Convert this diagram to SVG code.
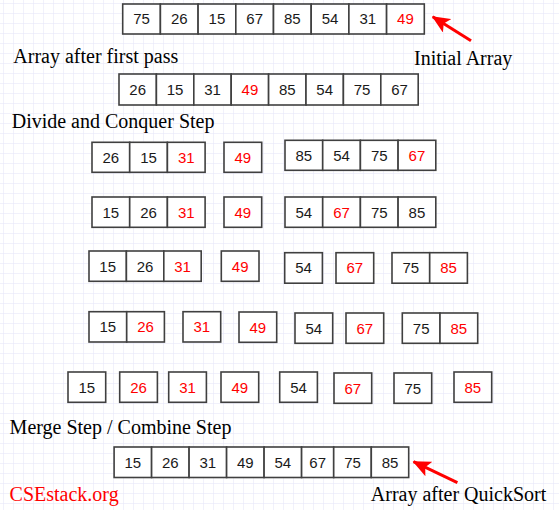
<svg xmlns="http://www.w3.org/2000/svg" width="559" height="510" viewBox="0 0 559 510">
<style>
.c{fill:#fff;stroke:#404040;stroke-width:1.6}
.n{font-family:"Liberation Sans",Arial,sans-serif;font-size:15px;text-anchor:middle;fill:#1a1a1a}
.r{fill:#ff0000}
.lbl{font-family:"Liberation Serif","Times New Roman",serif;font-size:20px;fill:#000}
.arr{stroke:#ff0000;stroke-width:3;fill:none}
</style>
<defs>
<pattern id="grid" width="10" height="10" patternUnits="userSpaceOnUse" x="3" y="3">
<path d="M10 0H0V10" fill="none" stroke="#e3e3f8" stroke-width="1"/>
</pattern>
<marker id="ah" markerUnits="userSpaceOnUse" markerWidth="18" markerHeight="16" viewBox="0 0 18 16" refX="17" refY="8" orient="auto">
<path d="M0,0 L18,8 L0,16 L4,8 z" fill="#ff0000"/>
</marker>
</defs>
<rect width="559" height="510" fill="#fff"/>
<rect width="559" height="510" fill="url(#grid)"/>

<g id="initial-array">
<rect class="c" x="122.7" y="4" width="37.7" height="30"/><text class="n" x="141.55" y="24.4">75</text>
<rect class="c" x="160.4" y="4" width="37.7" height="30"/><text class="n" x="179.25" y="24.4">26</text>
<rect class="c" x="198.1" y="4" width="37.7" height="30"/><text class="n" x="216.95" y="24.4">15</text>
<rect class="c" x="235.8" y="4" width="37.7" height="30"/><text class="n" x="254.65" y="24.4">67</text>
<rect class="c" x="273.5" y="4" width="37.7" height="30"/><text class="n" x="292.35" y="24.4">85</text>
<rect class="c" x="311.2" y="4" width="37.7" height="30"/><text class="n" x="330.05" y="24.4">54</text>
<rect class="c" x="348.9" y="4" width="37.7" height="30"/><text class="n" x="367.75" y="24.4">31</text>
<rect class="c" x="386.6" y="4" width="37.7" height="30"/><text class="n r" x="405.45" y="24.4">49</text>
</g>

<g id="first-pass">
<rect class="c" x="119" y="74" width="37.4" height="31"/><text class="n" x="137.7" y="95">26</text>
<rect class="c" x="156.4" y="74" width="37.4" height="31"/><text class="n" x="175.1" y="95">15</text>
<rect class="c" x="193.8" y="74" width="37.4" height="31"/><text class="n" x="212.5" y="95">31</text>
<rect class="c" x="231.2" y="74" width="37.4" height="31"/><text class="n r" x="249.9" y="95">49</text>
<rect class="c" x="268.6" y="74" width="37.4" height="31"/><text class="n" x="287.3" y="95">85</text>
<rect class="c" x="306" y="74" width="37.4" height="31"/><text class="n" x="324.7" y="95">54</text>
<rect class="c" x="343.4" y="74" width="37.4" height="31"/><text class="n" x="362.1" y="95">75</text>
<rect class="c" x="380.8" y="74" width="37.4" height="31"/><text class="n" x="399.5" y="95">67</text>
</g>

<g id="row3-left">
<rect class="c" x="92" y="142.3" width="37.7" height="30"/><text class="n" x="110.85" y="162.7">26</text>
<rect class="c" x="129.7" y="142.3" width="37.7" height="30"/><text class="n" x="148.55" y="162.7">15</text>
<rect class="c" x="167.4" y="142.3" width="37.7" height="30"/><text class="n r" x="186.25" y="162.7">31</text>
</g>
<g id="row3-pivot">
<rect class="c" x="224" y="142.3" width="37.7" height="30"/><text class="n r" x="242.85" y="162.7">49</text>
</g>
<g id="row3-right">
<rect class="c" x="285" y="140.3" width="37.7" height="30"/><text class="n" x="303.85" y="160.7">85</text>
<rect class="c" x="322.7" y="140.3" width="37.7" height="30"/><text class="n" x="341.55" y="160.7">54</text>
<rect class="c" x="360.4" y="140.3" width="37.7" height="30"/><text class="n" x="379.25" y="160.7">75</text>
<rect class="c" x="398.1" y="140.3" width="37.7" height="30"/><text class="n r" x="416.95" y="160.7">67</text>
</g>

<g id="row4-left">
<rect class="c" x="92" y="197" width="37.7" height="30.3"/><text class="n" x="110.85" y="217.6">15</text>
<rect class="c" x="129.7" y="197" width="37.7" height="30.3"/><text class="n" x="148.55" y="217.6">26</text>
<rect class="c" x="167.4" y="197" width="37.7" height="30.3"/><text class="n r" x="186.25" y="217.6">31</text>
</g>
<g id="row4-pivot">
<rect class="c" x="224" y="197" width="37.7" height="30.3"/><text class="n r" x="242.85" y="217.6">49</text>
</g>
<g id="row4-right">
<rect class="c" x="285" y="197" width="37.7" height="30.3"/><text class="n" x="303.85" y="217.6">54</text>
<rect class="c" x="322.7" y="197" width="37.7" height="30.3"/><text class="n r" x="341.55" y="217.6">67</text>
<rect class="c" x="360.4" y="197" width="37.7" height="30.3"/><text class="n" x="379.25" y="217.6">75</text>
<rect class="c" x="398.1" y="197" width="37.7" height="30.3"/><text class="n" x="416.95" y="217.6">85</text>
</g>

<g id="row5-left">
<rect class="c" x="89" y="251" width="37.4" height="30.3"/><text class="n" x="107.7" y="271.6">15</text>
<rect class="c" x="126.4" y="251" width="37.4" height="30.3"/><text class="n" x="145.1" y="271.6">26</text>
<rect class="c" x="163.8" y="251" width="37.4" height="30.3"/><text class="n r" x="182.5" y="271.6">31</text>
</g>
<g id="row5-pivot">
<rect class="c" x="221.3" y="251" width="37.7" height="30.3"/><text class="n r" x="240.15" y="271.6">49</text>
</g>
<g id="row5-54">
<rect class="c" x="284.7" y="252.7" width="37.7" height="30.5"/><text class="n" x="303.55" y="273.3">54</text>
</g>
<g id="row5-67">
<rect class="c" x="336" y="252.7" width="37.7" height="30.5"/><text class="n r" x="354.85" y="273.3">67</text>
</g>
<g id="row5-right">
<rect class="c" x="392" y="252.7" width="37.7" height="30.5"/><text class="n" x="410.85" y="273.3">75</text>
<rect class="c" x="429.7" y="252.7" width="37.7" height="30.5"/><text class="n r" x="448.55" y="273.3">85</text>
</g>

<g id="row6-left">
<rect class="c" x="89" y="311.7" width="37.7" height="30.3"/><text class="n" x="107.85" y="332.3">15</text>
<rect class="c" x="126.7" y="311.7" width="37.7" height="30.3"/><text class="n r" x="145.55" y="332.3">26</text>
</g>
<g id="row6-31">
<rect class="c" x="183" y="311.7" width="37.7" height="30.3"/><text class="n r" x="201.85" y="332.3">31</text>
</g>
<g id="row6-49">
<rect class="c" x="239" y="312" width="37.7" height="30.3"/><text class="n r" x="257.85" y="332.6">49</text>
</g>
<g id="row6-54">
<rect class="c" x="295" y="313" width="37.7" height="30.3"/><text class="n" x="313.85" y="333.6">54</text>
</g>
<g id="row6-67">
<rect class="c" x="346" y="313" width="37.7" height="30.3"/><text class="n r" x="364.85" y="333.6">67</text>
</g>
<g id="row6-right">
<rect class="c" x="402.3" y="313" width="37.7" height="30.3"/><text class="n" x="421.15" y="333.6">75</text>
<rect class="c" x="440" y="313" width="37.7" height="30.3"/><text class="n r" x="458.85" y="333.6">85</text>
</g>

<g id="row7-15"><rect class="c" x="68" y="372" width="37.7" height="30.3"/><text class="n" x="86.85" y="392.6">15</text></g>
<g id="row7-26"><rect class="c" x="119.7" y="372" width="37.7" height="30.3"/><text class="n r" x="138.55" y="392.6">26</text></g>
<g id="row7-31"><rect class="c" x="168.7" y="372" width="37.7" height="30.3"/><text class="n r" x="187.55" y="392.6">31</text></g>
<g id="row7-49"><rect class="c" x="221" y="372" width="37.7" height="30.3"/><text class="n r" x="239.85" y="392.6">49</text></g>
<g id="row7-54"><rect class="c" x="279.7" y="372" width="37.7" height="30.3"/><text class="n" x="298.55" y="392.6">54</text></g>
<g id="row7-67"><rect class="c" x="334" y="373" width="37.7" height="30.3"/><text class="n r" x="352.85" y="393.6">67</text></g>
<g id="row7-75"><rect class="c" x="394" y="373" width="37.7" height="30.3"/><text class="n" x="412.85" y="393.6">75</text></g>
<g id="row7-85"><rect class="c" x="454" y="372" width="37.7" height="30.3"/><text class="n r" x="472.85" y="392.6">85</text></g>

<g id="sorted-array">
<rect class="c" x="114.1" y="447" width="37.5" height="30.5"/><text class="n" x="132.85" y="467.7">15</text>
<rect class="c" x="151.6" y="447" width="37.5" height="30.5"/><text class="n" x="170.35" y="467.7">26</text>
<rect class="c" x="189.1" y="447" width="37.5" height="30.5"/><text class="n" x="207.85" y="467.7">31</text>
<rect class="c" x="226.6" y="447" width="37.5" height="30.5"/><text class="n" x="245.35" y="467.7">49</text>
<rect class="c" x="264.1" y="447" width="37.5" height="30.5"/><text class="n" x="282.85" y="467.7">54</text>
<rect class="c" x="301.6" y="447" width="32.1" height="30.5"/><text class="n" x="317.65" y="467.7">67</text>
<rect class="c" x="333.7" y="447" width="37.6" height="30.5"/><text class="n" x="352.5" y="467.7">75</text>
<rect class="c" x="371.3" y="447" width="37.4" height="30.5"/><text class="n" x="390" y="467.7">85</text>
</g>

<g id="label-initial"><text class="lbl" x="414" y="65">Initial Array</text></g>
<g id="label-first-pass"><text class="lbl" x="13.3" y="62.7">Array after first pass</text></g>
<g id="label-divide"><text class="lbl" x="11.7" y="127.5">Divide and Conquer Step</text></g>
<g id="label-merge"><text class="lbl" x="9.6" y="434">Merge Step / Combine Step</text></g>
<g id="label-site"><text class="lbl" x="9.6" y="500.7" style="fill:#ff0000">CSEstack.org</text></g>
<g id="label-sorted"><text class="lbl" x="370.8" y="500.7">Array after QuickSort</text></g>

<g id="connectors">
<line class="arr" x1="471" y1="40.7" x2="432.7" y2="16.7" marker-end="url(#ah)"/>
<line class="arr" x1="457.4" y1="482.7" x2="413.5" y2="461.7" marker-end="url(#ah)"/>
</g>
</svg>
